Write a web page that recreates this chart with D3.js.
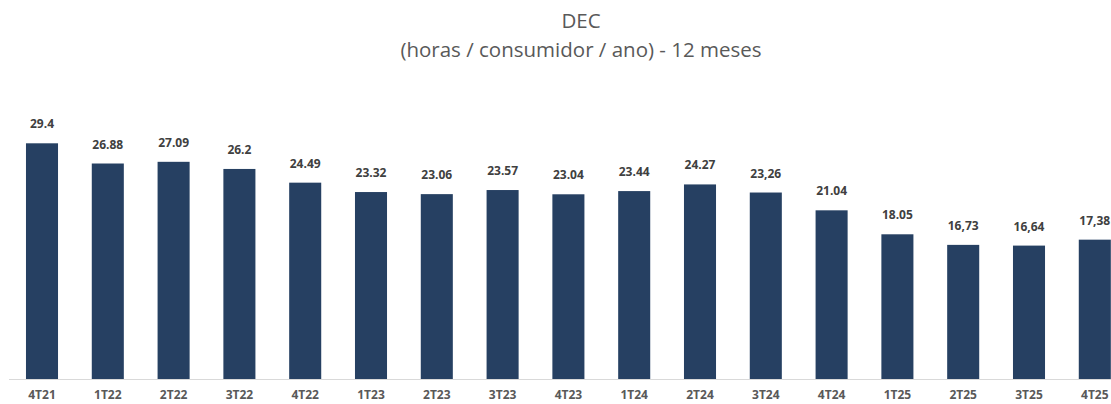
<!DOCTYPE html>
<html>
<head>
<meta charset="utf-8">
<script src="https://cdn.jsdelivr.net/npm/d3@7"></script>
<style>
  body { margin: 0; background: #fff; }
  svg { display: block; font-family: "Open Sans", "DejaVu Sans", sans-serif; }
</style>
</head>
<body>
<svg id="chart" width="1111" height="404"></svg>
<script>
(function () {
    let w = 1111,
        h = 404;

    // data
    let categories = ["4T21", "1T22", "2T22", "3T22", "4T22", "1T23", "2T23", "3T23", "4T23",
        "1T24", "2T24", "3T24", "4T24", "1T25", "2T25", "3T25", "4T25"];
    let values = [29.4, 26.88, 27.09, 26.2, 24.49, 23.32, 23.06, 23.57, 23.04,
        23.44, 24.27, 23.26, 21.04, 18.05, 16.73, 16.64, 17.38];
    let valueLabels = ["29.4", "26.88", "27.09", "26.2", "24.49", "23.32", "23.06", "23.57", "23.04",
        "23.44", "24.27", "23,26", "21.04", "18.05", "16,73", "16,64", "17,38"];
    let titleLines = ["DEC", "(horas / consumidor / ano) - 12 meses"];

    let svg = d3.select("#chart");

    let base = 379,
        step = 65.8,
        x0 = 9.1;

    let x = d3.scaleBand()
        .domain(categories)
        .range([x0, x0 + step * categories.length])
        .paddingInner(0.513)
        .paddingOuter(0.2565);

    let y = d3.scaleLinear()
        .domain([0, 29.4])
        .range([base, 143.3]);

    let rows = categories.map(function (c, i) {
        return {cat: c, v: values[i], label: valueLabels[i]};
    });

    // title
    svg.append("g").selectAll("text")
        .data(titleLines).enter().append("text")
        .attr("x", 581)
        .attr("y", function (d, i) { return 28 + i * 29; })
        .attr("text-anchor", "middle")
        .attr("font-size", 20.5)
        .attr("fill", "#595959")
        .text(function (d) { return d; });

    // bars
    svg.append("g").selectAll("rect")
        .data(rows).enter().append("rect")
        .attr("x", function (d) { return x(d.cat); })
        .attr("y", function (d) { return y(d.v); })
        .attr("width", x.bandwidth())
        .attr("height", function (d) { return base - y(d.v); })
        .attr("fill", "#264062");

    // value labels
    svg.append("g").selectAll("text")
        .data(rows).enter().append("text")
        .attr("x", function (d) { return x(d.cat) + x.bandwidth() / 2; })
        .attr("y", function (d) { return y(d.v) - 15; })
        .attr("text-anchor", "middle")
        .attr("font-size", 12)
        .attr("font-weight", "bold")
        .attr("fill", "#404040")
        .text(function (d) { return d.label; });

    // x axis
    let axis = svg.append("g")
        .attr("transform", "translate(0," + base + ")")
        .call(d3.axisBottom(x).tickSize(0).tickPadding(11));
    axis.select(".domain").attr("stroke", "#d9d9d9").attr("d", "M9,0.5H" + w);
    axis.selectAll("text")
        .attr("font-size", 12)
        .attr("font-weight", "bold")
        .attr("fill", "#595959")
        .attr("font-family", "\"Open Sans\", sans-serif");
})();
</script>
</body>
</html>
